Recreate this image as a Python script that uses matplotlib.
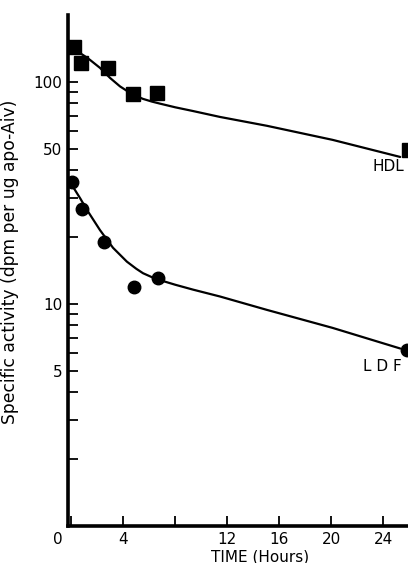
import matplotlib
matplotlib.use("Agg")
import matplotlib.pyplot as plt
import matplotlib.transforms as mtransforms
from matplotlib.ticker import FixedLocator, NullFormatter

plt.rcParams['font.family'] = ['DejaVu Sans']

# Data points (time in hours, specific activity)
hdl_time = [0.2, 0.75, 2.8, 4.75, 6.6, 26.0]
hdl_act = [144, 122, 116, 88, 89, 49.5]
ldf_time = [0.05, 0.8, 2.55, 4.8, 6.7, 25.8]
ldf_act = [35.5, 26.8, 19.1, 11.9, 13.1, 6.2]

# Fitted curves
hdl_curve_t = [0.52, 1.0, 1.44, 2.21, 2.98, 3.75, 4.52, 5.0, 5.52, 6.2, 6.82, 8.0, 9.36, 11.44, 15.05, 20.1, 25.3]
hdl_curve_v = [136.5, 131.0, 125.6, 115.6, 104.2, 95.4, 89.2, 86.3, 83.8, 81.5, 79.8, 76.8, 73.9, 69.5, 63.4, 54.8, 45.9]
ldf_curve_t = [0.13, 0.7, 1.21, 2.21, 3.21, 4.28, 5.0, 5.52, 6.2, 6.82, 8.0, 9.36, 11.44, 15.05, 20.1, 25.3]
ldf_curve_v = [33.7, 29.8, 26.5, 21.5, 17.9, 15.5, 14.4, 13.75, 13.2, 12.8, 12.2, 11.6, 10.8, 9.4, 7.8, 6.3]

x_ticks = [0, 4, 8, 12, 16, 20, 24]
x_tick_labels = ['0', '4', '', '12', '16', '20', '24']
y_major = [5, 10, 50, 100]
y_major_labels = ['5', '10', '50', '100']
y_minor = [2, 3, 4, 6, 7, 8, 9, 20, 30, 40, 60, 70, 80, 90]

fig = plt.figure(figsize=(4.08, 5.63), dpi=100)
ax = fig.add_axes([68/408, 37/563, 340/408, (526-15)/563])

ax.plot(hdl_curve_t, hdl_curve_v, color='black', lw=1.6, solid_capstyle='round', solid_joinstyle='round')
ax.plot(ldf_curve_t, ldf_curve_v, color='black', lw=1.6, solid_capstyle='round', solid_joinstyle='round')
ax.plot(hdl_time, hdl_act, 's', color='black', ms=9.5, mec='black')
ax.plot(ldf_time, ldf_act, 'o', color='black', ms=9, mec='black')

ax.set_yscale('log')
ax.set_xlim(-0.25, 25.9)
ax.set_ylim(1, 200)

ax.set_xticks(x_ticks)
ax.set_xticklabels(x_tick_labels)
ax.yaxis.set_major_locator(FixedLocator(y_major))
ax.set_yticklabels(y_major_labels)
ax.yaxis.set_minor_locator(FixedLocator(y_minor))
ax.yaxis.set_minor_formatter(NullFormatter())

for s in ['top', 'right']:
    ax.spines[s].set_visible(False)
for s in ['left', 'bottom']:
    ax.spines[s].set_linewidth(2.6)

ax.tick_params(axis='both', which='major', direction='in', length=7, width=1.3,
               labelsize=11, pad=4)
ax.tick_params(axis='y', which='minor', direction='in', length=7, width=1.3)

# shift the "0" label left like in the original
lab0 = ax.get_xticklabels()[0]
lab0.set_transform(lab0.get_transform() + mtransforms.ScaledTranslation(-13/100, 0, fig.dpi_scale_trans))

ax.set_xlabel('TIME (Hours)', fontsize=11, va='top')
ax.xaxis.set_label_coords(0.565, -0.046)
ax.set_ylabel('Specific activity (dpm per ug apo-Aiv)', fontsize=12.3)
ax.yaxis.set_label_coords(-0.145, 0.517)

ax.text(24.4, 41.5, 'HDL', fontsize=11, ha='center', va='center')
ax.text(23.9, 5.2, 'L D F', fontsize=11, ha='center', va='center')

fig.savefig('out.png', dpi=100)
